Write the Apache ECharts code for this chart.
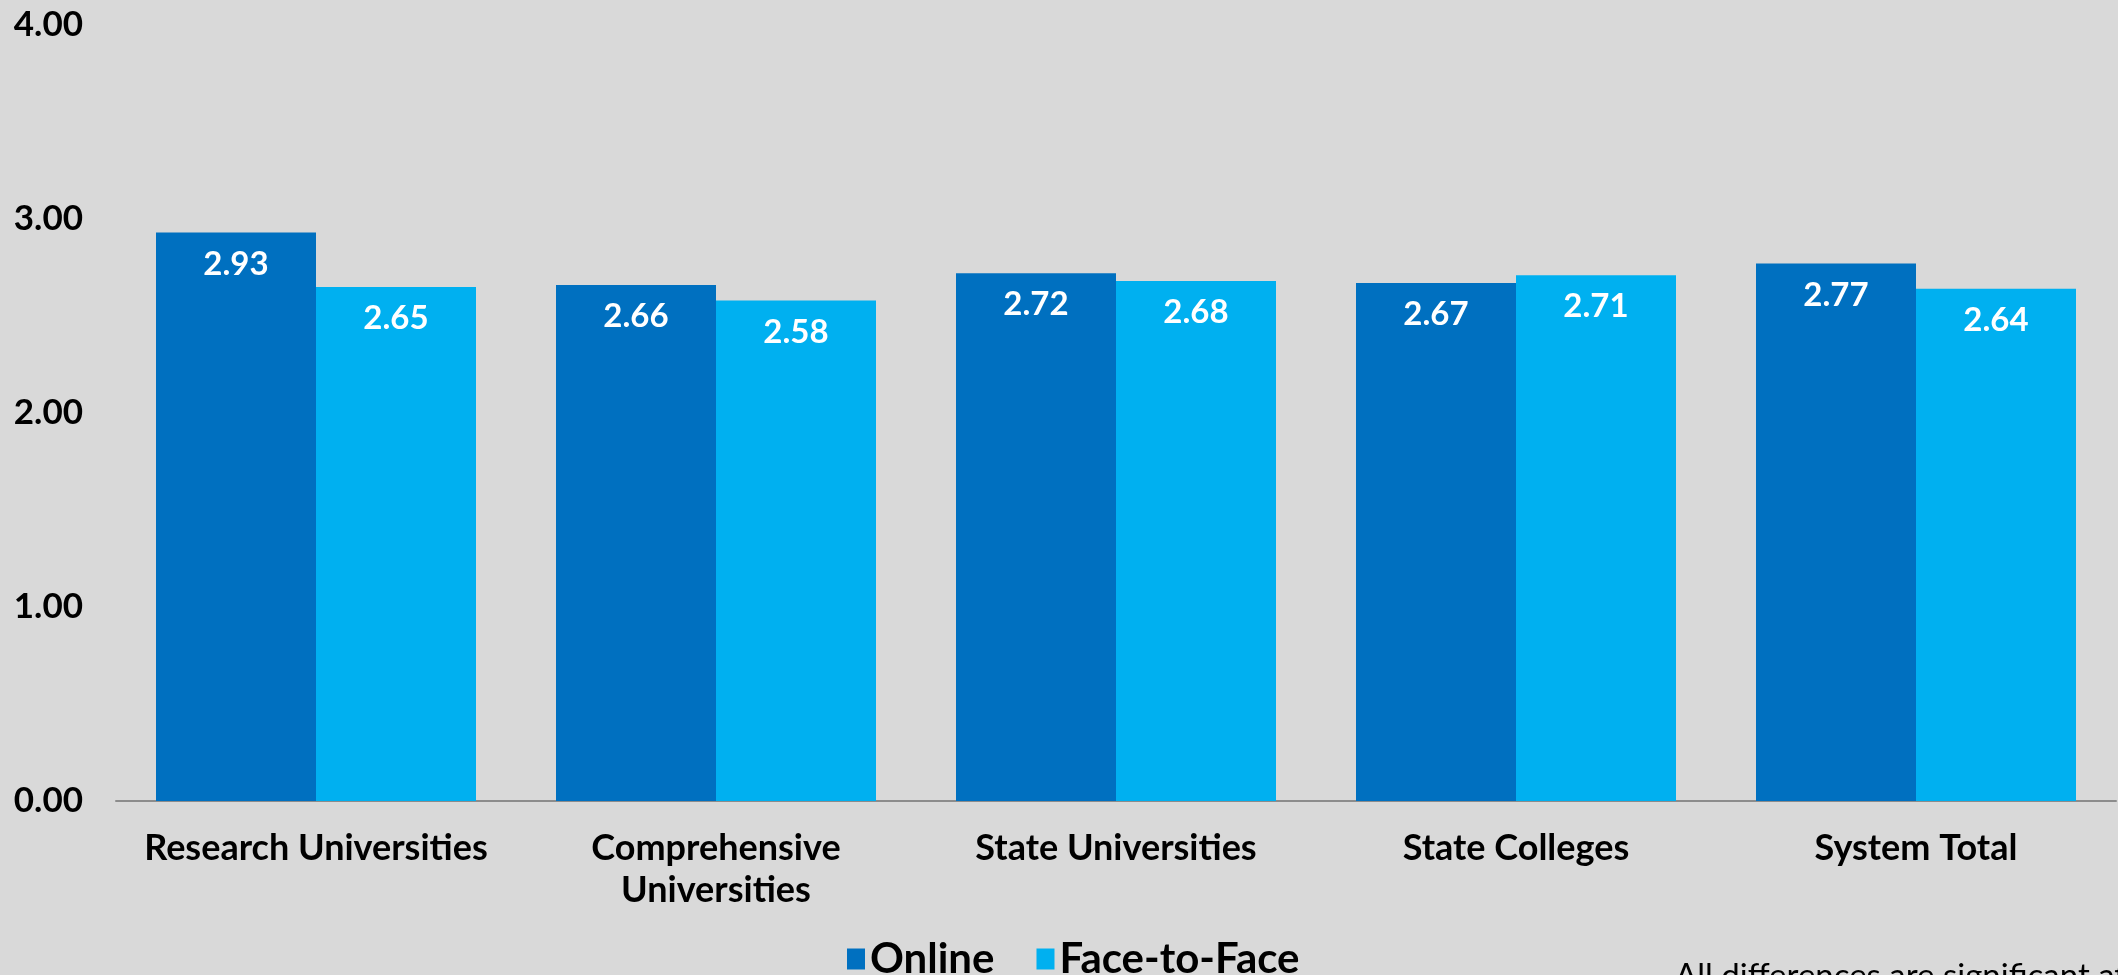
<!DOCTYPE html>
<html>
<head>
<meta charset="utf-8">
<script src="https://cdn.jsdelivr.net/npm/echarts@6/dist/echarts.min.js"></script>
<style>
html,body{margin:0;padding:0;background:#D9D9D9;}
#chart{width:2118px;height:975px;}
</style>
</head>
<body>
<div id="chart"></div>
<script>
const categories = ["Research Universities", "Comprehensive\nUniversities", "State Universities", "State Colleges", "System Total"];
const seriesNames = ["Online", "Face-to-Face"];
const online = [2.93, 2.66, 2.72, 2.67, 2.77];
const faceToFace = [2.65, 2.58, 2.68, 2.71, 2.64];
const yTicks = [0, 1, 2, 3, 4];
const footnote = "All differences are significant at p < .05";

const FONT = "Lato, 'Noto Sans', sans-serif";
const chart = echarts.init(document.getElementById('chart'));
const labelCfg = {
  show: true, position: 'insideTop', distance: 15,
  color: '#FFFFFF', fontWeight: 'bold', fontSize: 33, fontFamily: FONT,
  formatter: p => p.value.toFixed(2)
};
chart.setOption({
  backgroundColor: '#D9D9D9',
  animation: false,
  grid: { left: 116, right: 2, top: 25, bottom: 174, containLabel: false },
  legend: {
    data: seriesNames, left: 842, top: 933,
    itemWidth: 18, itemHeight: 21, itemGap: 42,
    icon: 'rect',
    textStyle: { fontSize: 42, fontWeight: 'bold', color: '#000', fontFamily: FONT }
  },
  xAxis: {
    type: 'category', data: categories,
    axisLine: { show: true, lineStyle: { color: '#8C8C8C', width: 2 } },
    axisTick: { show: false },
    axisLabel: { color: '#000', fontSize: 36, fontWeight: 'bold', fontFamily: FONT, margin: 26, lineHeight: 42, interval: 0 }
  },
  yAxis: {
    type: 'value', min: yTicks[0], max: yTicks[yTicks.length - 1], interval: 1,
    axisLine: { show: false }, axisTick: { show: false }, splitLine: { show: false },
    axisLabel: { color: '#000', fontSize: 35, fontWeight: 'bold', fontFamily: FONT, margin: 33, formatter: v => v.toFixed(2) }
  },
  series: [
    { name: seriesNames[0], type: 'bar', data: online, barGap: '0%', barCategoryGap: '20%',
      itemStyle: { color: '#0070C0' }, label: labelCfg },
    { name: seriesNames[1], type: 'bar', data: faceToFace, barGap: '0%', barCategoryGap: '20%',
      itemStyle: { color: '#00B0F0' }, label: labelCfg }
  ],
  graphic: [{
    type: 'text', left: 1675, top: 960,
    style: { text: footnote, fontSize: 33, fontFamily: FONT, fill: '#000' }
  }]
});
</script>
</body>
</html>
